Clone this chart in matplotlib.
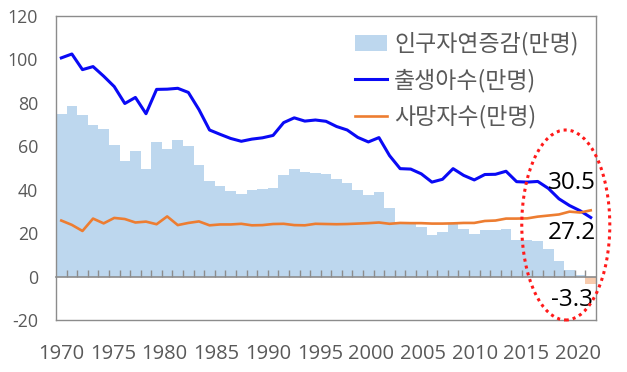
import matplotlib
matplotlib.use('Agg')
import matplotlib.pyplot as plt
import matplotlib.transforms as mtransforms
from matplotlib.patches import Ellipse
import numpy as np

years = list(range(1970, 2021))
natural_increase = [74.9, 78.7, 74.3, 70.0, 67.8, 60.5, 53.2, 57.6, 49.7, 62.1,
                    58.6, 63.0, 60.1, 51.5, 43.9, 41.5, 39.6, 38.0, 39.7, 40.2,
                    40.8, 46.6, 49.4, 48.0, 47.8, 47.3, 45.0, 43.3, 39.7, 37.4,
                    39.1, 31.4, 25.0, 24.9, 22.7, 19.1, 20.4, 24.5, 21.9, 19.8,
                    21.4, 21.3, 21.8, 17.0, 16.7, 16.3, 12.5, 7.2, 2.8, 0.8,
                    -3.3]
births = [100.7, 102.5, 95.3, 96.7, 92.3, 87.5, 79.7, 82.5, 75.0, 86.2,
          86.3, 86.7, 84.8, 76.9, 67.5, 65.5, 63.6, 62.3, 63.3, 63.9,
          65.0, 70.9, 73.1, 71.6, 72.1, 71.5, 69.1, 67.5, 64.1, 62.0,
          64.0, 55.7, 49.7, 49.5, 47.3, 43.5, 44.8, 49.7, 46.6, 44.5,
          47.0, 47.1, 48.5, 43.7, 43.5, 43.8, 40.6, 35.8, 32.7, 30.3,
          27.2]
deaths = [25.8, 23.8, 21.0, 26.7, 24.5, 27.0, 26.5, 24.9, 25.3, 24.1,
          27.7, 23.7, 24.7, 25.4, 23.6, 24.0, 24.0, 24.3, 23.6, 23.7,
          24.2, 24.3, 23.7, 23.6, 24.3, 24.2, 24.1, 24.2, 24.4, 24.6,
          24.9, 24.3, 24.7, 24.6, 24.6, 24.4, 24.4, 24.5, 24.7, 24.7,
          25.6, 25.8, 26.7, 26.7, 26.8, 27.6, 28.1, 28.6, 29.9, 29.5,
          30.5]
label_years = [1970, 1975, 1980, 1985, 1990, 1995, 2000, 2005, 2010, 2015, 2020]
y_ticks = [-20, 0, 20, 40, 60, 80, 100, 120]
series_names = ['인구자연증감(만명)', '출생아수(만명)', '사망자수(만명)']

GRAY_TXT = '#595959'
FRAME = '#8C8C8C'
NUM_FONT = ['Open Sans', 'DejaVu Sans']
KR_FONT = ['Noto Sans CJK KR', 'DejaVu Sans']

fig = plt.figure(figsize=(6.27, 3.72), dpi=100)
ax = fig.add_axes([0.0893, 0.1398, 0.8613, 0.8172])

x = np.arange(len(years))
bar_colors = ['#BDD7EE' if v >= 0 else '#F8CBAD' for v in natural_increase]
bars = ax.bar(x, natural_increase, width=1.0, color=bar_colors, zorder=1)
l1, = ax.plot(x, births, color='#0A0AF5', lw=2.2, zorder=3)
l2, = ax.plot(x, deaths, color='#ED7D31', lw=1.9, zorder=4)

ax.set_xlim(-0.5, len(years) - 0.5)
ax.set_ylim(-20, 120)
ax.set_yticks(y_ticks)
ax.set_yticklabels([str(v) for v in y_ticks], family=NUM_FONT, fontsize=12.8, color=GRAY_TXT)
xt = [years.index(y) for y in label_years]
ax.set_xticks(xt)
ax.set_xticklabels([str(y) for y in label_years], family=NUM_FONT, fontsize=14.5, color=GRAY_TXT)
ax.tick_params(axis='y', length=0, pad=13)
ax.tick_params(axis='x', length=0, pad=17)
# Excel spaces the category labels slightly tighter than the categories
for i, lb in enumerate(ax.get_xticklabels()):
    lb.set_transform(lb.get_transform() +
                     mtransforms.ScaledTranslation(-i * 1.25 / 100, 0, fig.dpi_scale_trans))
for s in ax.spines.values():
    s.set_color(FRAME)
    s.set_linewidth(1.0)

# category axis line at zero with tick marks between categories
ax2 = ax.twiny()
ax2.set_xlim(ax.get_xlim())
ax2.xaxis.set_ticks_position('bottom')
ax2.spines['bottom'].set_position(('data', 0))
for k in ['top', 'left', 'right']:
    ax2.spines[k].set_visible(False)
ax2.spines['bottom'].set_color(FRAME)
ax2.spines['bottom'].set_linewidth(1.2)
ax2.set_xticks(np.arange(1, len(years)) - 0.5)
ax2.tick_params(axis='x', direction='in', length=5, width=1, color=FRAME,
                labelbottom=False, labeltop=False, top=False)

leg = fig.legend([bars, l1, l2], series_names, loc='upper left',
                 bbox_to_anchor=(355/627, 1 - 32/372), frameon=False,
                 prop={'family': KR_FONT, 'size': 16.5},
                 handlelength=1.4, handletextpad=0.3, labelspacing=0.56,
                 borderpad=0, borderaxespad=0)
for t in leg.get_texts():
    t.set_color(GRAY_TXT)

# annotations
tr = mtransforms.blended_transform_factory(ax.transAxes, ax.transData)
ax.text(1.0, 43.1, f'{deaths[-1]:.1f}', transform=tr, ha='right', va='center',
        fontsize=17.5, family=NUM_FONT, color='black', zorder=6)
ax.text(1.0, 20.1, f'{births[-1]:.1f}', transform=tr, ha='right', va='center',
        fontsize=17.5, family=NUM_FONT, color='black', zorder=6)
ax.text(0.995, -10.8, f'{natural_increase[-1]:.1f}', transform=tr, ha='right', va='center',
        fontsize=17.5, family=NUM_FONT, color='black', zorder=6)

ell = Ellipse((0.944, 0.3125), 0.163, 0.625, transform=ax.transAxes, fill=False,
              edgecolor='#FF1A1A', linestyle=(0, (1, 1.3)), lw=2.2, clip_on=False, zorder=7)
ax.add_patch(ell)

fig.savefig('out.png', dpi=100)
